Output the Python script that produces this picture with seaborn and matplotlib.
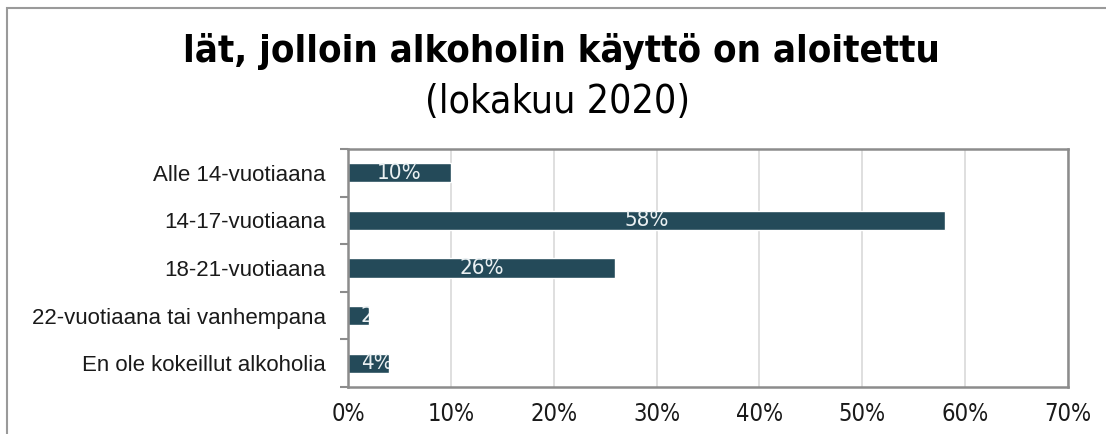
import matplotlib
matplotlib.use("Agg")
import matplotlib.pyplot as plt
import seaborn as sns
from matplotlib import font_manager
from matplotlib.font_manager import FontProperties
from matplotlib.patches import Rectangle
from matplotlib.ticker import FuncFormatter, MultipleLocator, FixedLocator

categories = ["Alle 14-vuotiaana", "14-17-vuotiaana", "18-21-vuotiaana",
              "22-vuotiaana tai vanhempana", "En ole kokeillut alkoholia"]
values = [10, 58, 26, 2, 4]
title = "lät, jolloin alkoholin käyttö on aloitettu"
subtitle = "(lokakuu 2020)"

bar_color = "#244A59"


def narrow_font(bold):
    # look for any condensed / narrow face installed, else plain Liberation Sans
    for f in font_manager.fontManager.ttflist:
        low = f.fname.lower()
        if ("narrow" in low or "condensed" in low) and ("sans" in low):
            is_bold = "bold" in low
            if is_bold == bold and "italic" not in low and "oblique" not in low:
                return FontProperties(fname=f.fname)
    return FontProperties(family="Liberation Sans",
                          weight="bold" if bold else "normal")


sns.set_style("white")
plt.rcParams["font.family"] = ["Liberation Sans", "DejaVu Sans"]
plt.rcParams["text.color"] = "#000000"

fp_bold = narrow_font(True)
fp_reg = narrow_font(False)

fig = plt.figure(figsize=(11.06, 4.34), dpi=100)
ax = fig.add_axes([348 / 1106, 1 - 387 / 434, (1068 - 348) / 1106, (387 - 149) / 434])

sns.barplot(x=values, y=categories, orient="h", color=bar_color, width=0.4,
            saturation=1, ax=ax)

ax.set_xlim(0, 70)
ax.set_ylim(4.5, -0.5)
ax.xaxis.set_major_locator(MultipleLocator(10))
ax.xaxis.set_major_formatter(FuncFormatter(lambda v, p: f"{int(v)}%"))
ax.grid(axis="x", color="#D9D9D9", linewidth=1.2)
ax.set_axisbelow(True)
ax.set_xlabel("")
ax.set_ylabel("")

for s in ax.spines.values():
    s.set_visible(True)
    s.set_color("#8C8C8C")
    s.set_linewidth(1.8)

ax.tick_params(axis="x", length=0, pad=11, labelcolor="#1a1a1a")
for lab in ax.get_xticklabels():
    lab.set_fontproperties(fp_reg)
    lab.set_fontsize(17)
ax.tick_params(axis="y", which="major", length=0, pad=16, labelsize=16, labelcolor="#1a1a1a")
ax.yaxis.set_minor_locator(FixedLocator([-0.5, 0.5, 1.5, 2.5, 3.5, 4.5]))
ax.tick_params(axis="y", which="minor", left=True, length=6, width=1.5, color="#8C8C8C")

# data labels: centred in the bar, but never starting left of the bar base + margin,
# and clipped to the bar like the original
r = fig.canvas.get_renderer()
px_per_unit = ax.transData.transform((1, 0))[0] - ax.transData.transform((0, 0))[0]
for bar, v in zip(ax.patches, values):
    cx = bar.get_x() + bar.get_width() / 2
    cy = bar.get_y() + bar.get_height() / 2
    t = ax.text(cx, cy, f"{v}%", ha="left", va="center", fontproperties=fp_reg,
                fontsize=16, color="#EAF0F2", clip_on=True)
    w = t.get_window_extent(r).width / px_per_unit
    t.set_x(max(cx - w / 2, bar.get_x() + 13 / px_per_unit))
    t.set_clip_path(bar)

# titles, sized so their widths match the original
t1 = fig.text(0.508, 0.882, title, ha="center", va="center",
              fontproperties=fp_bold, fontsize=26, color="black")
t2 = fig.text(0.504, 0.766, subtitle, ha="center", va="center",
              fontproperties=fp_reg, fontsize=25, color="black")
for t, w in ((t1, 757), (t2, 265)):
    cur = t.get_window_extent(r).width
    t.set_fontsize(t.get_fontsize() * w / cur)

# outer chart border
fig.patches.append(Rectangle((7 / 1106, -0.1), 1.2, 1 - 8 / 434 + 0.1,
                             transform=fig.transFigure, fill=False,
                             edgecolor="#9A9A9A", linewidth=1.5))

fig.savefig("out.png", dpi=100)
